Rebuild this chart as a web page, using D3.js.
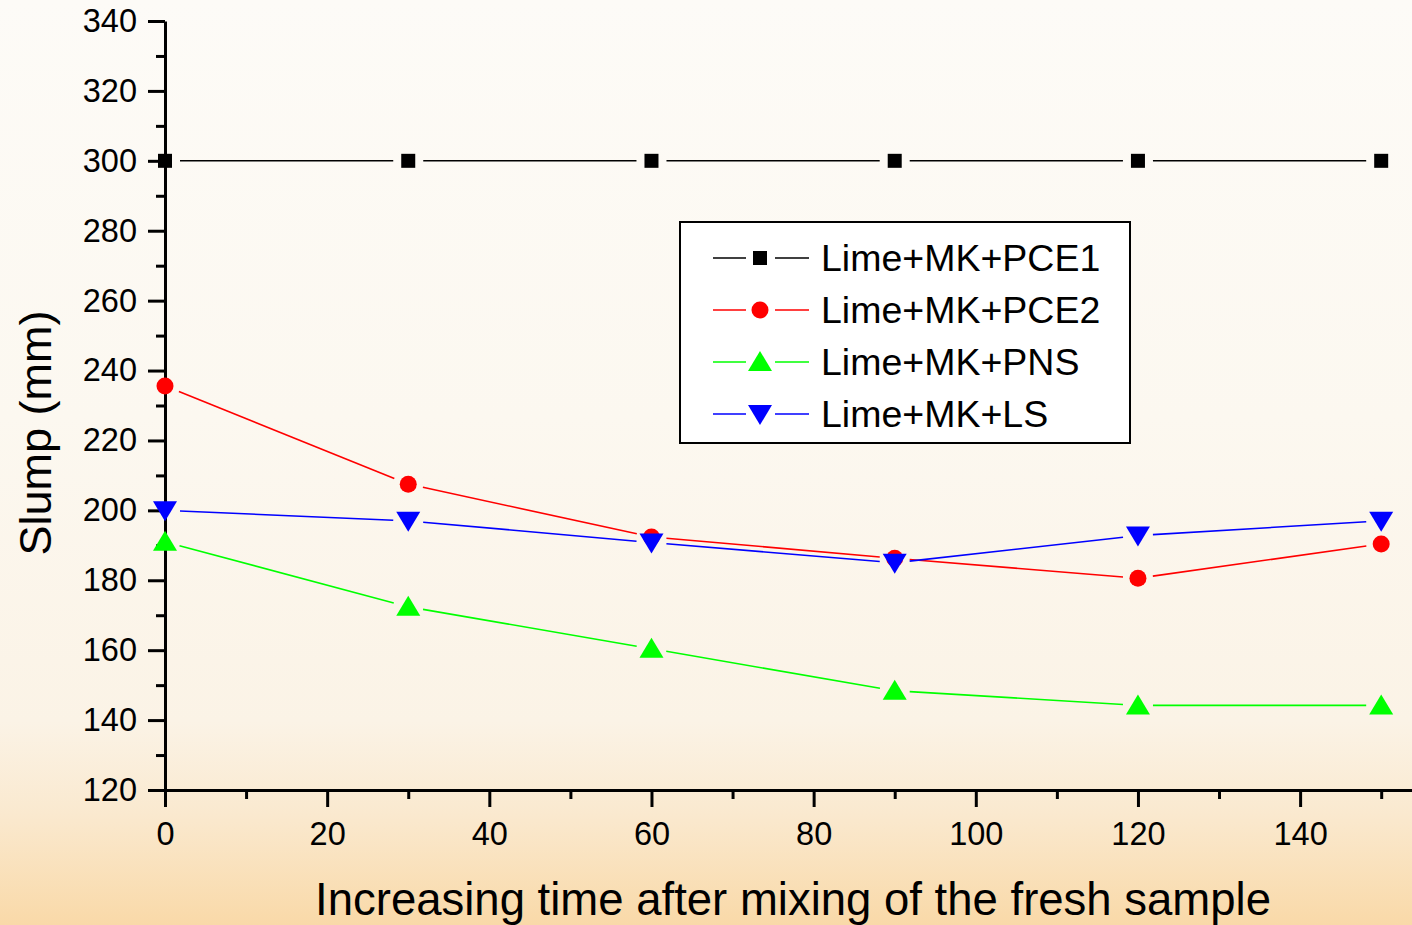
<!DOCTYPE html>
<html>
<head>
<meta charset="utf-8">
<script src="https://cdn.jsdelivr.net/npm/d3@7"></script>
<style>
  html, body { margin: 0; padding: 0; }
  svg { display: block; font-family: "Liberation Sans", Arial, sans-serif; }
</style>
</head>
<body>
<svg id="chart" width="1412" height="925"></svg>
<script>
// Slump loss over time for four lime/metakaolin mixes
const times = [0, 30, 60, 90, 120, 150];
const pce1 = [300, 300, 300, 300, 300, 300];
const pce2 = [235.6, 207.5, 192.4, 186.3, 180.6, 190.4];
const pns  = [191, 172.4, 160.4, 148.4, 144.2, 144.2];
const ls   = [200, 197, 190.8, 185, 192.8, 197];
const seriesNames = ["Lime+MK+PCE1", "Lime+MK+PCE2", "Lime+MK+PNS", "Lime+MK+LS"];
const xTicks = [0, 20, 40, 60, 80, 100, 120, 140];
const yTicks = [120, 140, 160, 180, 200, 220, 240, 260, 280, 300, 320, 340];

const W = 1412, H = 925;
const svg = d3.select("#chart");

// background wash
const defs = svg.append("defs");
const grad = defs.append("linearGradient").attr("id", "bg").attr("x1", 0).attr("y1", 0).attr("x2", 0).attr("y2", 1);
grad.append("stop").attr("offset", "0").attr("stop-color", "#fdfbf7");
grad.append("stop").attr("offset", "0.45").attr("stop-color", "#fcf8f0");
grad.append("stop").attr("offset", "0.78").attr("stop-color", "#fbf3e6");
grad.append("stop").attr("offset", "0.88").attr("stop-color", "#fae9cf");
grad.append("stop").attr("offset", "1").attr("stop-color", "#f9d9a8");
svg.append("rect").attr("width", W).attr("height", H).attr("fill", "url(#bg)");

const x = d3.scaleLinear().domain([0, 153.8]).range([165, 1412]);
const y = d3.scaleLinear().domain([120, 340]).range([790, 21]);

const series = [
  { name: seriesNames[0], values: pce1, color: "#000000", shape: "square" },
  { name: seriesNames[1], values: pce2, color: "#ff0000", shape: "circle" },
  { name: seriesNames[2], values: pns,  color: "#00ff00", shape: "up" },
  { name: seriesNames[3], values: ls,   color: "#0000ff", shape: "down" }
];

// axes
const yMinor = d3.range(130, 340, 20);
const xMinor = d3.range(10, 154, 20);

function styleAxis(g) {
  g.select(".domain").attr("stroke", "#000").attr("stroke-width", 3);
  g.selectAll(".tick line").attr("stroke", "#000").attr("stroke-width", 3);
  g.selectAll(".tick text").attr("fill", "#000").attr("font-size", 32.5)
    .attr("font-family", "Liberation Sans, Arial, sans-serif");
}

const yAxis = svg.append("g").attr("transform", `translate(${x(0)},0)`)
  .call(d3.axisLeft(y).tickValues(yTicks).tickSize(17).tickSizeOuter(0).tickPadding(11).tickFormat(d3.format("d")));
styleAxis(yAxis);
const yAxisMinor = svg.append("g").attr("transform", `translate(${x(0)},0)`)
  .call(d3.axisLeft(y).tickValues(yMinor).tickSize(9).tickSizeOuter(0).tickFormat(""));
styleAxis(yAxisMinor);
yAxisMinor.select(".domain").remove();

const xAxis = svg.append("g").attr("transform", `translate(0,${y(120)})`)
  .call(d3.axisBottom(x).tickValues(xTicks).tickSize(17).tickSizeOuter(0).tickPadding(15).tickFormat(d3.format("d")));
styleAxis(xAxis);
const xAxisMinor = svg.append("g").attr("transform", `translate(0,${y(120)})`)
  .call(d3.axisBottom(x).tickValues(xMinor).tickSize(9).tickSizeOuter(0).tickFormat(""));
styleAxis(xAxisMinor);
xAxisMinor.select(".domain").remove();

// axis titles
svg.append("text").attr("x", 793).attr("y", 915).attr("text-anchor", "middle")
  .attr("font-size", 45.5).attr("fill", "#000")
  .text("Increasing time after mixing of the fresh sample");
svg.append("text").attr("transform", "translate(51,433) rotate(-90)").attr("text-anchor", "middle")
  .attr("font-size", 45).attr("fill", "#000").text("Slump (mm)");

// marker drawing
function drawMarker(g, shape, cx, cy, color) {
  if (shape === "square") {
    g.append("rect").attr("x", cx - 7).attr("y", cy - 7).attr("width", 14).attr("height", 14).attr("fill", color);
  } else if (shape === "circle") {
    g.append("circle").attr("cx", cx).attr("cy", cy).attr("r", 8.5).attr("fill", color);
  } else if (shape === "up") {
    g.append("path").attr("d", `M${cx},${cy - 11}L${cx + 12},${cy + 9}L${cx - 12},${cy + 9}Z`).attr("fill", color);
  } else {
    g.append("path").attr("d", `M${cx},${cy + 11}L${cx + 12},${cy - 9}L${cx - 12},${cy - 9}Z`).attr("fill", color);
  }
}

// segments stop short of each marker
const gap = 15;
series.forEach(s => {
  const g = svg.append("g");
  const pts = times.map((t, i) => [x(t), y(s.values[i])]);
  for (let i = 0; i < pts.length - 1; i++) {
    const [x0, y0] = pts[i], [x1, y1] = pts[i + 1];
    const len = Math.hypot(x1 - x0, y1 - y0);
    const ux = (x1 - x0) / len, uy = (y1 - y0) / len;
    g.append("line")
      .attr("x1", x0 + ux * gap).attr("y1", y0 + uy * gap)
      .attr("x2", x1 - ux * gap).attr("y2", y1 - uy * gap)
      .attr("stroke", s.color).attr("stroke-width", 1.6);
  }
  pts.forEach(p => drawMarker(g, s.shape, p[0], p[1], s.color));
});

// legend
const lg = svg.append("g");
lg.append("rect").attr("x", 680).attr("y", 222).attr("width", 450).attr("height", 221)
  .attr("fill", "#ffffff").attr("stroke", "#000").attr("stroke-width", 2);
series.forEach((s, i) => {
  const cy = 258 + i * 52;
  lg.append("line").attr("x1", 713).attr("x2", 746).attr("y1", cy).attr("y2", cy)
    .attr("stroke", s.color).attr("stroke-width", 1.6);
  lg.append("line").attr("x1", 775).attr("x2", 809).attr("y1", cy).attr("y2", cy)
    .attr("stroke", s.color).attr("stroke-width", 1.6);
  drawMarker(lg, s.shape, 760, cy, s.color);
  lg.append("text").attr("x", 821).attr("y", cy + 13).attr("font-size", 37.5).attr("fill", "#000").text(s.name);
});
</script>
</body>
</html>
